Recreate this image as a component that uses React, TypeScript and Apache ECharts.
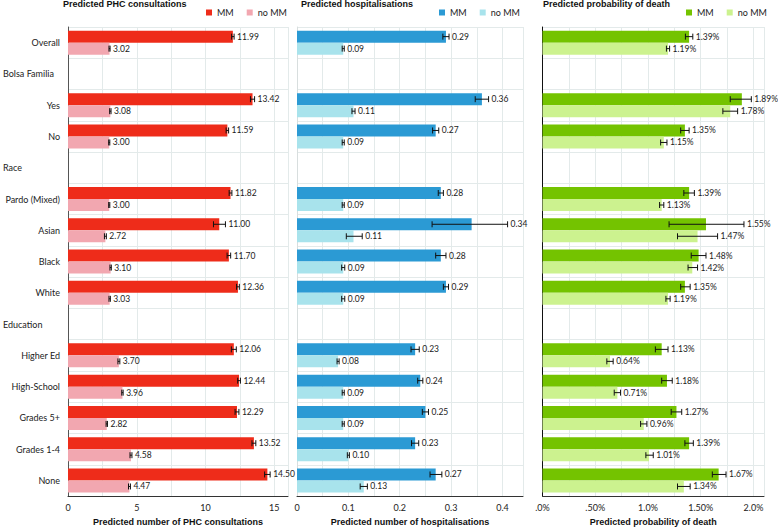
import React, { useEffect, useRef } from "react";
import * as echarts from "echarts";

// ---- Data ----
const categories = [
  "Overall", "Bolsa Familia", "Yes", "No", "Race", "Pardo (Mixed)", "Asian", "Black", "White",
  "Education", "Higher Ed", "High-School", "Grades 5+", "Grades 1-4", "None",
];
const headers = ["Bolsa Familia", "Race", "Education"];

const phcMM = [11.99, null, 13.42, 11.59, null, 11.82, 11.0, 11.7, 12.36, null, 12.06, 12.44, 12.29, 13.52, 14.5];
const phcMMLow = [11.9, null, 13.27, 11.5, null, 11.72, 10.58, 11.57, 12.26, null, 11.88, 12.34, 12.15, 13.38, 14.3];
const phcMMHigh = [12.08, null, 13.57, 11.68, null, 11.92, 11.45, 11.83, 12.46, null, 12.24, 12.54, 12.43, 13.66, 14.7];
const phcNo = [3.02, null, 3.08, 3.0, null, 3.0, 2.72, 3.1, 3.03, null, 3.7, 3.96, 2.82, 4.58, 4.47];
const phcNoLow = [2.98, null, 3.03, 2.96, null, 2.96, 2.65, 3.05, 2.98, null, 3.63, 3.91, 2.77, 4.51, 4.4];
const phcNoHigh = [3.06, null, 3.13, 3.04, null, 3.04, 2.79, 3.15, 3.08, null, 3.77, 4.01, 2.87, 4.65, 4.54];

const hospMM = [0.29, null, 0.36, 0.27, null, 0.28, 0.34, 0.28, 0.29, null, 0.23, 0.24, 0.25, 0.23, 0.27];
const hospMMLow = [0.284, null, 0.347, 0.264, null, 0.275, 0.263, 0.27, 0.285, null, 0.222, 0.235, 0.244, 0.223, 0.259];
const hospMMHigh = [0.296, null, 0.373, 0.276, null, 0.285, 0.41, 0.29, 0.295, null, 0.238, 0.245, 0.256, 0.237, 0.282];
const hospNo = [0.09, null, 0.11, 0.09, null, 0.09, 0.11, 0.09, 0.09, null, 0.08, 0.09, 0.09, 0.1, 0.13];
const hospNoLow = [0.088, null, 0.107, 0.088, null, 0.088, 0.096, 0.087, 0.087, null, 0.078, 0.088, 0.088, 0.098, 0.123];
const hospNoHigh = [0.092, null, 0.113, 0.092, null, 0.092, 0.127, 0.093, 0.093, null, 0.082, 0.092, 0.092, 0.102, 0.137];

const deathMM = [1.39, null, 1.89, 1.35, null, 1.39, 1.55, 1.48, 1.35, null, 1.13, 1.18, 1.27, 1.39, 1.67];
const deathMMLow = [1.355, null, 1.78, 1.31, null, 1.34, 1.2, 1.41, 1.31, null, 1.07, 1.13, 1.22, 1.35, 1.61];
const deathMMHigh = [1.425, null, 1.98, 1.39, null, 1.44, 1.91, 1.55, 1.4, null, 1.19, 1.23, 1.32, 1.43, 1.74];
const deathNo = [1.19, null, 1.78, 1.15, null, 1.13, 1.47, 1.42, 1.19, null, 0.64, 0.71, 0.96, 1.01, 1.34];
const deathNoLow = [1.175, null, 1.71, 1.12, null, 1.11, 1.28, 1.38, 1.17, null, 0.61, 0.68, 0.93, 0.98, 1.28];
const deathNoHigh = [1.205, null, 1.85, 1.18, null, 1.15, 1.66, 1.47, 1.21, null, 0.67, 0.74, 0.99, 1.05, 1.4];

const deathTickLabels = [".0%", ".50%", "1.0%", "1.50%", "2.0%"];

const titles = ["Predicted PHC consultations", "Predicted hospitalisations", "Predicted probability of death"];
const axisNames = [
  "Predicted number of PHC consultations",
  "Predicted number of hospitalisations",
  "Predicted probability of death",
];
const legendNames = ["MM", "no MM"];

const FONT = "Lato";
const TITLE_FONT = "Liberation Sans";

export default function App() {
  const ref = useRef<HTMLDivElement>(null);
  useEffect(() => {
    if (!ref.current) return;
    const chart = echarts.init(ref.current, null, { renderer: "svg" });

    const panels = [
      {
        key: "PHC", mm: phcMM, mmLo: phcMMLow, mmHi: phcMMHigh, no: phcNo, noLo: phcNoLow, noHi: phcNoHigh,
        colors: ["#EE2C1A", "#F2A7B0"], max: 16, interval: 2.5,
        grid: { left: 63, top: 27, width: 225, height: 475 },
        fmtTick: (v: number) => (Math.abs(v / 5 - Math.round(v / 5)) < 1e-6 ? String(v) : ""),
        fmtVal: (v: number) => v.toFixed(2),
        yLine: "#555", legendLeft: 206, titleLeft: 63,
      },
      {
        key: "HOSP", mm: hospMM, mmLo: hospMMLow, mmHi: hospMMHigh, no: hospNo, noLo: hospNoLow, noHi: hospNoHigh,
        colors: ["#2B9AD4", "#A8E3EC"], max: 0.44, interval: 0.05,
        grid: { left: 297, top: 27, width: 226, height: 475 },
        fmtTick: (v: number) =>
          Math.abs(v * 10 - Math.round(v * 10)) < 1e-6 ? (v === 0 ? "0" : v.toFixed(1)) : "",
        fmtVal: (v: number) => v.toFixed(2),
        yLine: "#d8dede", legendLeft: 439, titleLeft: 301,
      },
      {
        key: "DEATH", mm: deathMM, mmLo: deathMMLow, mmHi: deathMMHigh, no: deathNo, noLo: deathNoLow, noHi: deathNoHigh,
        colors: ["#74C300", "#CCF28F"], max: 2.1, interval: 0.25,
        grid: { left: 542.5, top: 27, width: 221.5, height: 475 },
        fmtTick: (v: number) => {
          const k = v / 0.5;
          return Math.abs(k - Math.round(k)) < 1e-6 ? deathTickLabels[Math.round(k)] || "" : "";
        },
        fmtVal: (v: number) => v.toFixed(2) + "%",
        yLine: "#111", legendLeft: 686, titleLeft: 543,
      },
    ];

    const grid: any[] = [];
    const xAxis: any[] = [];
    const yAxis: any[] = [];
    const series: any[] = [];
    const legend: any[] = [];
    const title: any[] = [];
    const BW = 12;

    panels.forEach((p, i) => {
      grid.push({ ...p.grid, containLabel: false });
      title.push({
        text: titles[i], left: p.titleLeft, top: -1, padding: 0,
        textStyle: { fontFamily: TITLE_FONT, fontSize: 9, fontWeight: "bold", color: "#111" },
      });
      legend.push({
        left: p.legendLeft, top: 8, padding: 0,
        data: legendNames.map((n) => p.key + "|" + n),
        formatter: (n: string) => n.split("|")[1],
        icon: "rect", itemWidth: 6, itemHeight: 6, itemGap: 13,
        textStyle: { fontFamily: FONT, fontSize: 9, color: "#222" },
        selectedMode: false,
      });
      xAxis.push({
        type: "value", gridIndex: i, min: 0, max: p.max, interval: p.interval,
        name: axisNames[i], nameLocation: "middle", nameGap: 17,
        nameTextStyle: { fontFamily: TITLE_FONT, fontSize: 9, fontWeight: "bold", color: "#111" },
        axisLine: { show: true, lineStyle: { color: "#333", width: 1 } },
        axisTick: { show: false },
        axisLabel: { formatter: p.fmtTick, fontFamily: FONT, fontSize: 9, color: "#222", margin: 7, hideOverlap: false, showMaxLabel: true },
        splitLine: { show: true, lineStyle: { color: "#e3eaea", width: 1 } },
      });
      yAxis.push({
        type: "category", gridIndex: i, data: categories, inverse: true,
        axisLine: { show: true, lineStyle: { color: p.yLine, width: 1 } },
        axisTick: { show: false },
        splitLine: { show: true, lineStyle: { color: "#e3eaea", width: 1 } },
        axisLabel: i === 0
          ? {
              show: true, interval: 0, margin: 8, fontFamily: FONT, fontSize: 9, color: "#222",
              formatter: (v: string) => (headers.includes(v) ? `{h|${v}}` : v),
              rich: { h: { width: 57, align: "left", fontFamily: FONT, fontSize: 9, color: "#222" } },
            }
          : { show: false },
      });

      const groups = [
        { name: "MM", vals: p.mm, lo: p.mmLo, hi: p.mmHi, color: p.colors[0], off: -BW / 2 },
        { name: "no MM", vals: p.no, lo: p.noLo, hi: p.noHi, color: p.colors[1], off: BW / 2 },
      ];
      groups.forEach((g) => {
        series.push({
          type: "bar", name: p.key + "|" + g.name, xAxisIndex: i, yAxisIndex: i,
          data: g.vals, barWidth: BW, barGap: "0%",
          itemStyle: { color: g.color },
        });
      });
      groups.forEach((g) => {
        const data: any[] = [];
        g.vals.forEach((v, idx) => {
          if (v !== null) data.push([idx, g.lo[idx], g.hi[idx], v]);
        });
        series.push({
          type: "custom", name: p.key + "|" + g.name + "|err", xAxisIndex: i, yAxisIndex: i,
          clip: false, z: 5,
          encode: { x: [1, 2], y: 0 },
          data,
          renderItem: (params: any, api: any) => {
            const cat = api.value(0);
            const lo = api.value(1);
            const hi = api.value(2);
            const v = api.value(3);
            const a = api.coord([lo, cat]);
            const b = api.coord([hi, cat]);
            const y = a[1] + g.off;
            const cap = 3;
            const ls = { stroke: "#111", lineWidth: 1 };
            return {
              type: "group",
              children: [
                { type: "line", shape: { x1: a[0], y1: y, x2: b[0], y2: y }, style: ls },
                { type: "line", shape: { x1: a[0], y1: y - cap, x2: a[0], y2: y + cap }, style: ls },
                { type: "line", shape: { x1: b[0], y1: y - cap, x2: b[0], y2: y + cap }, style: ls },
                {
                  type: "text", x: b[0] + 3, y,
                  style: {
                    text: p.fmtVal(v), fill: "#1a1a1a", fontFamily: FONT, fontSize: 8.5,
                    align: "left", verticalAlign: "middle",
                  },
                },
              ],
            };
          },
        });
      });
    });

    chart.setOption({
      animation: false,
      backgroundColor: "#ffffff",
      title, legend, grid, xAxis, yAxis, series,
    });
    return () => chart.dispose();
  }, []);

  return (
    <div
      ref={ref}
      style={{ position: "fixed", left: 0, top: 0, width: 778, height: 531, background: "#fff" }}
    />
  );
}
